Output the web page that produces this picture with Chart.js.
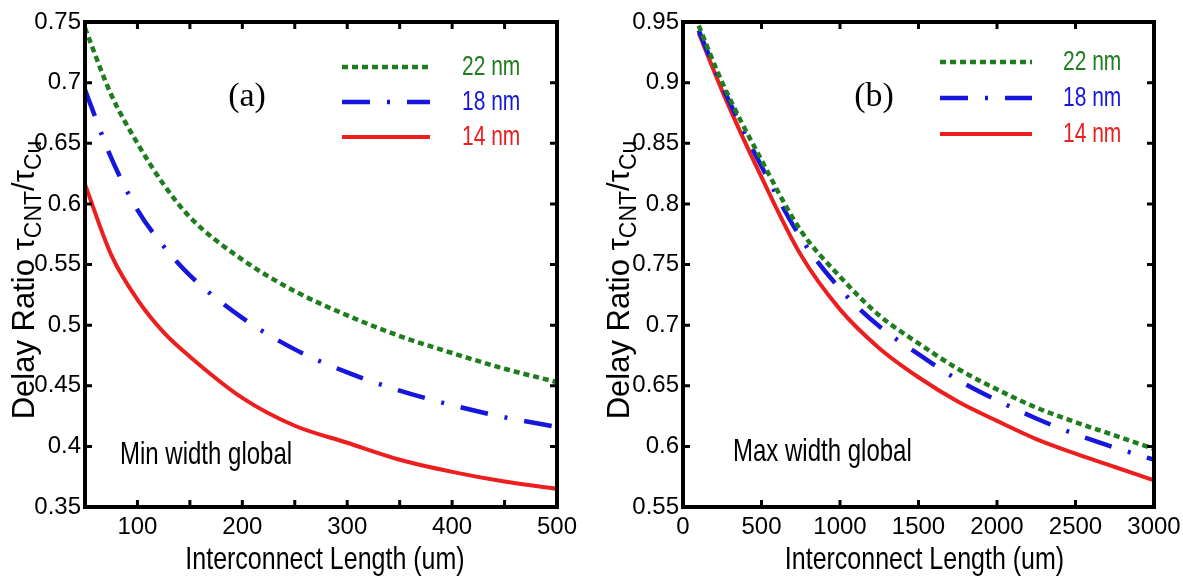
<!DOCTYPE html>
<html><head><meta charset="utf-8">
<script src="https://cdn.jsdelivr.net/npm/chart.js@4.4.1/dist/chart.umd.min.js"></script>
<style>
html,body{margin:0;padding:0;background:#fff;width:1183px;height:581px;overflow:hidden}
#wa{position:absolute;left:0;top:0;width:590px;height:581px}
#wb{position:absolute;left:590px;top:0;width:593px;height:581px}
</style></head><body>
<div id="wa"><canvas id="ca" width="590" height="581"></canvas></div>
<div id="wb"><canvas id="cb" width="593" height="581"></canvas></div>
<script>
// ---------- data ----------
const seriesNames = ['22 nm', '18 nm', '14 nm'];

const lengthA = [50, 75, 100, 125, 150, 200, 250, 300, 350, 400, 450, 500];
const ratio22A = [0.745, 0.690, 0.650, 0.616, 0.589, 0.554, 0.528, 0.508, 0.491, 0.477, 0.464, 0.453];
const ratio18A = [0.694, 0.638, 0.595, 0.565, 0.541, 0.506, 0.480, 0.461, 0.446, 0.434, 0.424, 0.416];
const ratio14A = [0.616, 0.558, 0.521, 0.494, 0.474, 0.440, 0.417, 0.403, 0.389, 0.379, 0.371, 0.365];

const lengthB = [100, 250, 500, 750, 1000, 1250, 1500, 1750, 2000, 2250, 2500, 2750, 3000];
const ratio22B = [0.947, 0.900, 0.836, 0.778, 0.740, 0.708, 0.685, 0.664, 0.647, 0.632, 0.620, 0.609, 0.598];
const ratio18B = [0.943, 0.897, 0.831, 0.772, 0.730, 0.699, 0.676, 0.655, 0.638, 0.623, 0.610, 0.599, 0.589];
const ratio14B = [0.941, 0.893, 0.822, 0.758, 0.713, 0.681, 0.657, 0.637, 0.621, 0.606, 0.594, 0.583, 0.572];

const xTickValuesA = [50, 100, 150, 200, 250, 300, 350, 400, 450, 500];
const xTickLabelsA = ['', '100', '', '200', '', '300', '', '400', '', '500'];
const yTickValuesA = [0.35, 0.4, 0.45, 0.5, 0.55, 0.6, 0.65, 0.7, 0.75];
const yTickLabelsA = ['0.35', '0.4', '0.45', '0.5', '0.55', '0.6', '0.65', '0.7', '0.75'];

const xTickValuesB = [0, 500, 1000, 1500, 2000, 2500, 3000];
const xTickLabelsB = ['0', '500', '1000', '1500', '2000', '2500', '3000'];
const yTickValuesB = [0.55, 0.6, 0.65, 0.7, 0.75, 0.8, 0.85, 0.9, 0.95];
const yTickLabelsB = ['0.55', '0.6', '0.65', '0.7', '0.75', '0.8', '0.85', '0.9', '0.95'];

const xTitle = 'Interconnect Length (um)';
// ---------- styles ----------
const seriesColors = ['#1f7d1f', '#1616dc', '#ec1e1e'];
const seriesDash = [[6, 4], [28, 17, 3, 17], []];
const seriesWidth = [4.5, 4.5, 4];
const SANS = "'Liberation Sans', Arial, sans-serif";
const SERIF = "'Liberation Serif', 'Times New Roman', serif";
const STRETCH = 1.28;

function fillStretched(ctx, text, x, y) {
  ctx.save();
  ctx.translate(x, y);
  ctx.scale(1, STRETCH);
  ctx.fillText(text, 0, 0);
  ctx.restore();
}

function drawYTitle(ctx, cx, cy) {
  const main = `31px ${SANS}`, sub = `23px ${SANS}`;
  const parts = [['Delay Ratio \u03C4', main, 0], ['CNT', sub, 7], ['/\u03C4', main, 0], ['Cu', sub, 7]];
  let total = 0;
  parts.forEach(p => { ctx.font = p[1]; p.push(ctx.measureText(p[0]).width); total += p[3]; });
  ctx.save();
  ctx.translate(cx, cy);
  ctx.rotate(-Math.PI / 2);
  ctx.fillStyle = '#000';
  ctx.textAlign = 'left';
  ctx.textBaseline = 'alphabetic';
  let x = -total / 2;
  const base = 0.358 * 31;
  parts.forEach(p => { ctx.font = p[1]; ctx.fillText(p[0], x, base + p[2]); x += p[3]; });
  ctx.restore();
}

function framePlugin(cfg) {
  return {
    id: 'frame' + cfg.id,
    afterDatasetsDraw(chart) {
      const { ctx, chartArea: a, scales: { x, y } } = chart;
      ctx.save();
      ctx.strokeStyle = '#000';
      ctx.lineWidth = 3;
      const tl = 7;
      ctx.beginPath();
      x.ticks.forEach(t => {
        const px = x.getPixelForValue(t.value);
        ctx.moveTo(px, a.bottom); ctx.lineTo(px, a.bottom - tl);
        ctx.moveTo(px, a.top); ctx.lineTo(px, a.top + tl);
      });
      y.ticks.forEach(t => {
        const py = y.getPixelForValue(t.value);
        ctx.moveTo(a.left, py); ctx.lineTo(a.left + tl, py);
        ctx.moveTo(a.right, py); ctx.lineTo(a.right - tl, py);
      });
      ctx.stroke();
      ctx.lineWidth = 4;
      ctx.strokeRect(a.left, a.top, a.right - a.left, a.bottom - a.top);
      ctx.restore();
    },
    afterDraw(chart) {
      const ctx = chart.ctx, a = chart.chartArea;
      ctx.save();
      ctx.fillStyle = '#000';
      ctx.textBaseline = 'middle';
      ctx.textAlign = 'center';
      ctx.font = `34px ${SERIF}`;
      ctx.fillText(cfg.letter, cfg.letterX, cfg.letterY);
      ctx.textAlign = 'left';
      ctx.font = `24px ${SANS}`;
      fillStretched(ctx, cfg.note, cfg.noteX, cfg.noteY);
      ctx.textAlign = 'center';
      ctx.font = `25px ${SANS}`;
      fillStretched(ctx, xTitle, (a.left + a.right) / 2 + cfg.xTitleDx, cfg.xTitleY);
      drawYTitle(ctx, cfg.yTitleX, cfg.yTitleY);
      chart.data.datasets.forEach((ds, i) => {
        const yy = cfg.legY[i];
        ctx.strokeStyle = ds.borderColor;
        ctx.lineWidth = ds.borderWidth;
        ctx.setLineDash(ds.borderDash);
        ctx.beginPath(); ctx.moveTo(cfg.legX0, yy); ctx.lineTo(cfg.legX1, yy); ctx.stroke();
        ctx.setLineDash([]);
        ctx.fillStyle = ds.borderColor;
        ctx.font = `21px ${SANS}`;
        ctx.textAlign = 'left';
        fillStretched(ctx, ds.label, cfg.legTextX, yy + 1);
      });
      ctx.restore();
    }
  };
}

function makeChart(id, xs, ysList, xMin, xMax, xTV, xTL, yMin, yMax, yTV, yTL, yAxisW, rightPad, cfg) {
  const datasets = ysList.map((ys, i) => ({
    label: seriesNames[i],
    data: xs.map((x, j) => ({ x: x, y: ys[j] })),
    borderColor: seriesColors[i],
    borderDash: seriesDash[i],
    borderWidth: seriesWidth[i],
    pointRadius: 0,
    fill: false,
    cubicInterpolationMode: 'monotone',
    borderCapStyle: 'butt'
  }));
  return new Chart(document.getElementById(id), {
    type: 'line',
    data: { datasets },
    plugins: [framePlugin(cfg)],
    options: {
      responsive: false, animation: false, devicePixelRatio: 1,
      layout: { padding: { left: 0, top: 22, right: rightPad, bottom: 0 } },
      plugins: { legend: { display: false }, tooltip: { enabled: false } },
      scales: {
        x: {
          type: 'linear', min: xMin, max: xMax,
          grid: { display: false, drawTicks: false }, border: { display: false },
          afterBuildTicks: s => { s.ticks = xTV.map(v => ({ value: v })); },
          afterFit: s => { s.height = 74; s.paddingLeft = 0; s.paddingRight = 0; },
          ticks: { padding: 6, color: '#000', autoSkip: false, maxRotation: 0,
            font: { family: SANS, size: 24 }, callback: (v, i) => xTL[i] }
        },
        y: {
          type: 'linear', min: yMin, max: yMax,
          grid: { display: false, drawTicks: false }, border: { display: false },
          afterBuildTicks: s => { s.ticks = yTV.map(v => ({ value: v })); },
          afterFit: s => { s.width = yAxisW; s.paddingTop = 0; s.paddingBottom = 0; },
          ticks: { padding: 4, color: '#000', autoSkip: false,
            font: { family: SANS, size: 24 }, callback: (v, i) => yTL[i] }
        }
      }
    }
  });
}

makeChart('ca', lengthA, [ratio22A, ratio18A, ratio14A], 50, 500, xTickValuesA, xTickLabelsA,
  0.35, 0.75, yTickValuesA, yTickLabelsA, 85, 33,
  { id: 'a', letter: '(a)', letterX: 247, letterY: 97, note: 'Min width global', noteX: 120, noteY: 456,
    xTitleDx: 4, xTitleY: 560, yTitleX: 23, yTitleY: 280,
    legX0: 342, legX1: 430, legTextX: 462, legY: [67, 102, 137] });

makeChart('cb', lengthB, [ratio22B, ratio18B, ratio14B], 0, 3000, xTickValuesB, xTickLabelsB,
  0.55, 0.95, yTickValuesB, yTickLabelsB, 93, 29,
  { id: 'b', letter: '(b)', letterX: 284, letterY: 97, note: 'Max width global', noteX: 143, noteY: 453,
    xTitleDx: 6, xTitleY: 560, yTitleX: 28, yTitleY: 280,
    legX0: 350, legX1: 442, legTextX: 473, legY: [62, 98, 134] });
</script>
</body></html>
